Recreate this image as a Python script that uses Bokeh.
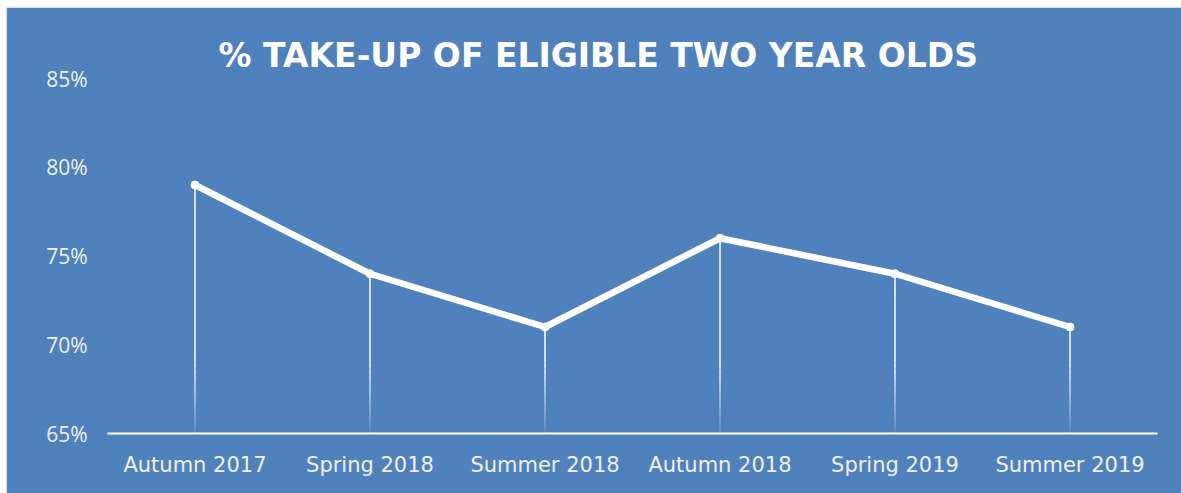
from bokeh.plotting import figure
from bokeh.models import FactorRange, Range1d, FixedTicker, PrintfTickFormatter, Title
from bokeh.embed import file_html
from bokeh.resources import INLINE

categories = ["Autumn 2017", "Spring 2018", "Summer 2018", "Autumn 2018", "Spring 2019", "Summer 2019"]
takeup = [79, 74, 71, 76, 74, 71]
y_ticks = [65, 70, 75, 80, 85]
title_text = "% TAKE-UP OF ELIGIBLE TWO YEAR OLDS"

BG = "#4f81bd"
Y_MIN, Y_MAX = 65, 85

p = figure(width=1175, height=486, x_range=FactorRange(*categories),
           y_range=Range1d(Y_MIN, Y_MAX), output_backend="svg", toolbar_location=None,
           background_fill_color=BG, border_fill_color=BG,
           outline_line_color=BG, outline_line_width=3,
           min_border_left=101, min_border_right=24, min_border_top=71, min_border_bottom=60)
p.margin = (7, 0, 0, 6)

p.title = Title(text=title_text, align="left", offset=111, standoff=8,
                text_font="DejaVu Sans", text_font_size="33px", text_font_style="bold",
                text_color="white")

p.xgrid.visible = False
p.ygrid.visible = False

# drop lines, solid part
fade_top = 69.0
p.segment(x0=categories, x1=categories, y0=takeup, y1=[fade_top] * len(takeup),
          line_color="white", line_width=1.5)
# fading part
steps = 12
for i in range(steps):
    a = fade_top - (fade_top - Y_MIN) * i / steps
    b = fade_top - (fade_top - Y_MIN) * (i + 1) / steps
    alpha = 1.0 - 0.9 * (i + 0.5) / steps
    p.segment(x0=categories, x1=categories, y0=[a] * len(categories), y1=[b] * len(categories),
              line_color="white", line_width=1.5, line_alpha=alpha)

p.line(categories, takeup, line_color="white", line_width=6.5, line_join="round", line_cap="round")
p.scatter(categories, takeup, size=8, color="white")

# x axis
xa = p.xaxis[0]
xa.axis_line_color = "white"
xa.axis_line_width = 2
xa.major_tick_line_color = None
xa.minor_tick_line_color = None
xa.major_label_standoff = 13
xa.major_label_text_font = "DejaVu Sans"
xa.major_label_text_font_size = "21px"
xa.major_label_text_color = "#eef2f8"

# y axis
ya = p.yaxis[0]
ya.ticker = FixedTicker(ticks=y_ticks)
ya.formatter = PrintfTickFormatter(format="%d%%")
ya.axis_line_color = None
ya.major_tick_line_color = None
ya.minor_tick_line_color = None
ya.major_label_standoff = 14
ya.major_label_text_font = "Open Sans"
ya.major_label_text_font_size = "21px"
ya.major_label_text_color = "#eef2f8"

open("out.html", "w").write(file_html(p, INLINE))
